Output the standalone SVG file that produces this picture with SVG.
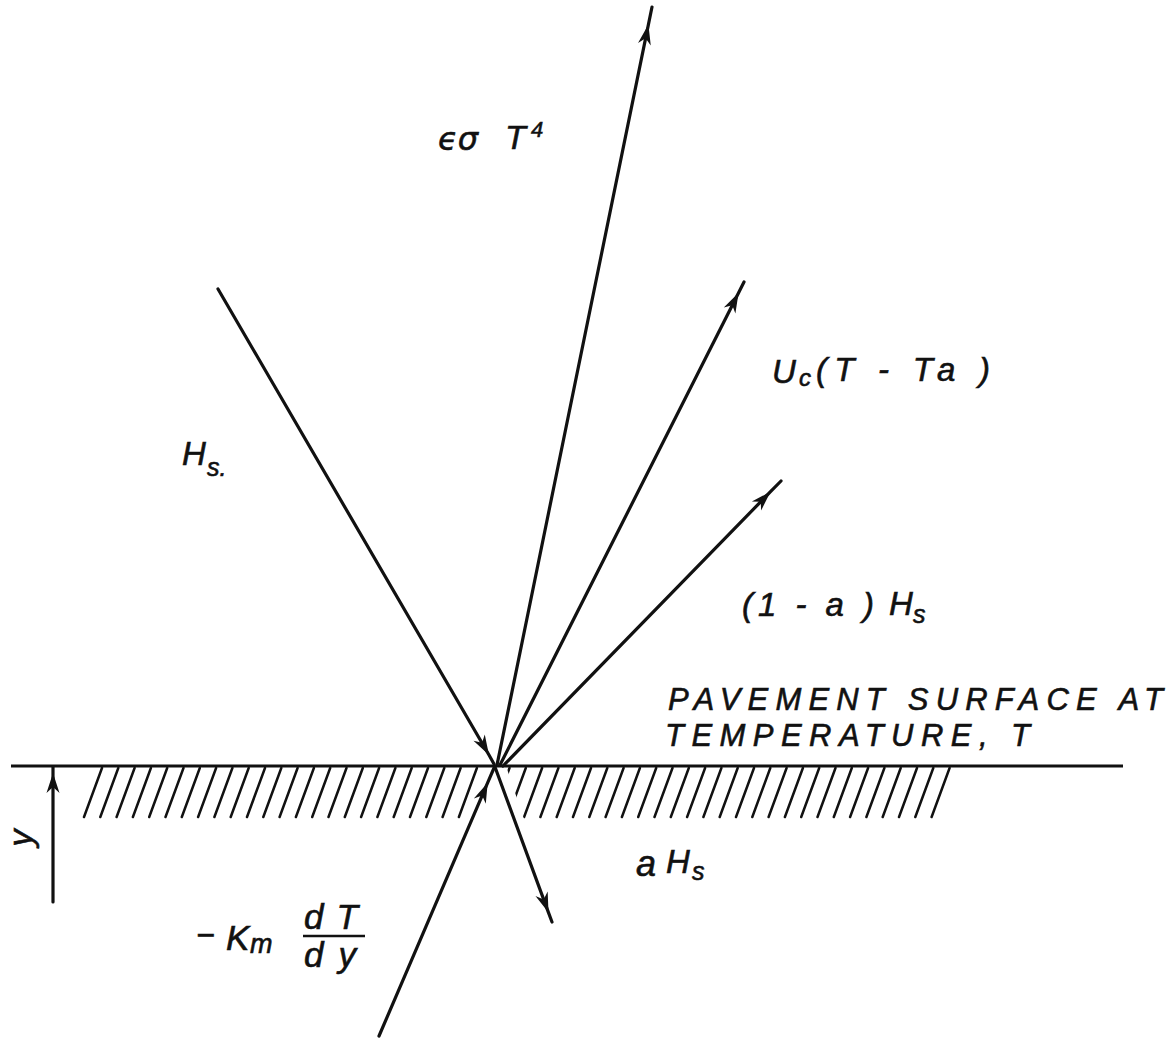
<svg xmlns="http://www.w3.org/2000/svg" width="1175" height="1040" viewBox="0 0 1175 1040">
<defs>
<style>
.ln{fill:none;stroke:#111;stroke-width:3.2;stroke-linecap:round;marker-mid:url(#ah)}
.lbl{font-family:"Liberation Sans","DejaVu Sans",sans-serif;font-style:italic;fill:#111;stroke:#111;stroke-width:0.6}
.hatch{fill:none;stroke:#111;stroke-width:2.5;stroke-linecap:round}
</style>
<marker id="ah" viewBox="-22 -8 24 16" markerWidth="24" markerHeight="16" refX="0" refY="0" orient="auto" markerUnits="userSpaceOnUse">
<path d="M-20,-6.5 L0,0 L-20,6.5 L-14,0 Z" fill="#111"/>
</marker>
<clipPath id="hclip">
<polygon points="80,766 486,766 463,822 80,822"/>
<polygon points="506,766 965,766 965,822 525,822"/>
</clipPath>
</defs>
<rect width="1175" height="1040" fill="#fff"/>

<g id="surface">
<line x1="11" y1="766" x2="1123" y2="766" stroke="#111" stroke-width="2.8"/>
<path class="hatch" clip-path="url(#hclip)" d="M84,817 l18,-49 M100.3,817 l18,-49 M116.6,817 l18,-49 M132.9,817 l18,-49 M149.2,817 l18,-49 M165.5,817 l18,-49 M181.8,817 l18,-49 M198.1,817 l18,-49 M214.4,817 l18,-49 M230.7,817 l18,-49 M247,817 l18,-49 M263.3,817 l18,-49 M279.6,817 l18,-49 M295.9,817 l18,-49 M312.2,817 l18,-49 M328.5,817 l18,-49 M344.8,817 l18,-49 M361.1,817 l18,-49 M377.4,817 l18,-49 M393.7,817 l18,-49 M410,817 l18,-49 M426.3,817 l18,-49 M442.6,817 l18,-49 M458.9,817 l18,-49 M475.2,817 l18,-49 M491.5,817 l18,-49 M507.8,817 l18,-49 M524.1,817 l18,-49 M540.4,817 l18,-49 M556.7,817 l18,-49 M573,817 l18,-49 M589.3,817 l18,-49 M605.6,817 l18,-49 M621.9,817 l18,-49 M638.2,817 l18,-49 M654.5,817 l18,-49 M670.8,817 l18,-49 M687.1,817 l18,-49 M703.4,817 l18,-49 M719.7,817 l18,-49 M736,817 l18,-49 M752.3,817 l18,-49 M768.6,817 l18,-49 M784.9,817 l18,-49 M801.2,817 l18,-49 M817.5,817 l18,-49 M833.8,817 l18,-49 M850.1,817 l18,-49 M866.4,817 l18,-49 M882.7,817 l18,-49 M899,817 l18,-49 M915.3,817 l18,-49 M931.6,817 l18,-49"/>
</g>

<g id="connectors">
<polyline id="c-radiation" class="ln" points="497,765 648.4,24.6 652,7"/>
<polyline id="c-convection" class="ln" points="500,765 738.6,292.7 744,282"/>
<polyline id="c-reflected" class="ln" points="503,766 770.5,491.7 781,481"/>
<polyline id="c-solar" class="ln" points="218,289 489,755 494,764"/>
<polyline id="c-absorbed" class="ln" points="495,767 548.5,912.6 552,922"/>
<polyline id="c-conduction" class="ln" points="379,1036 487.7,782.7 494,768"/>
<polyline id="c-yaxis" class="ln" points="53,902 53,773 53,767"/>
</g>

<g id="label-radiation" class="lbl">
<text x="438" y="150" font-size="32" font-family="DejaVu Sans, sans-serif">ϵσ</text>
<text x="505" y="149" font-size="34">T</text>
<text x="531" y="137" font-size="22">4</text>
</g>

<g id="label-solar" class="lbl">
<text x="182" y="465" font-size="33">H</text>
<text x="207" y="476" font-size="25">s.</text>
</g>

<g id="label-convection" class="lbl">
<text x="772" y="383" font-size="33">U</text>
<text x="799" y="386" font-size="24">c</text>
<text x="816" y="381" font-size="33" textLength="174" lengthAdjust="spacing">(T - Ta )</text>
</g>

<g id="label-reflected" class="lbl">
<text x="742" y="616" font-size="33" textLength="132" lengthAdjust="spacing">(1 - a )</text>
<text x="889" y="615" font-size="33">H</text>
<text x="913" y="623" font-size="25">s</text>
</g>

<g id="label-surface" class="lbl">
<text x="668" y="710" font-size="31" textLength="495" lengthAdjust="spacing">PAVEMENT SURFACE AT</text>
<text x="665" y="746" font-size="31" textLength="365" lengthAdjust="spacing">TEMPERATURE, T</text>
</g>

<g id="label-absorbed" class="lbl">
<text x="636" y="876" font-size="36">a</text>
<text x="666" y="873" font-size="33">H</text>
<text x="692" y="880" font-size="25">s</text>
</g>

<g id="label-conduction" class="lbl">
<text x="196" y="946" font-size="32">−</text>
<text x="226" y="950" font-size="35">K</text>
<text x="250" y="953" font-size="27">m</text>
<text x="304" y="929" font-size="35" textLength="54" lengthAdjust="spacing">dT</text>
<line x1="303" y1="936" x2="365" y2="936" stroke="#111" stroke-width="2.4"/>
<text x="304" y="967" font-size="35" textLength="52" lengthAdjust="spacing">dy</text>
</g>

<g id="label-y" class="lbl">
<text transform="translate(32,838) rotate(-90)" text-anchor="middle" font-size="34">y</text>
</g>
</svg>
